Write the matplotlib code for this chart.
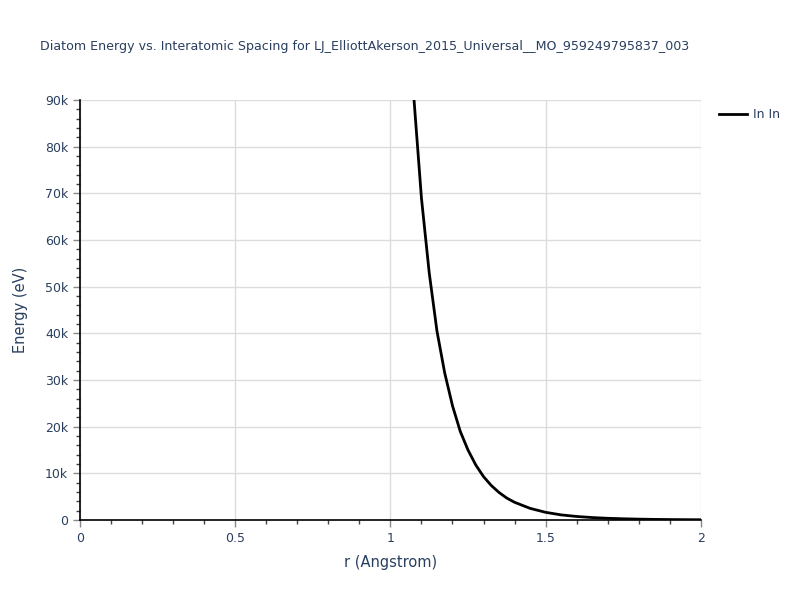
import matplotlib
matplotlib.use("Agg")
import matplotlib.pyplot as plt
from matplotlib.ticker import FuncFormatter, MultipleLocator

# values
r = [1.05, 1.075, 1.10, 1.125, 1.15, 1.175, 1.20, 1.225, 1.25, 1.275,
     1.30, 1.325, 1.35, 1.375, 1.40, 1.45, 1.50, 1.55, 1.60, 1.65,
     1.70, 1.75, 1.80, 1.85, 1.90, 1.95, 2.00]
energy = [121000, 91000, 69000, 53000, 40500, 31500, 24500, 19000, 15000, 11800,
          9300, 7400, 5900, 4700, 3800, 2500, 1650, 1100, 760, 530,
          370, 265, 190, 135, 100, 75, 55]
label = "In In"
title = "Diatom Energy vs. Interatomic Spacing for LJ_ElliottAkerson_2015_Universal__MO_959249795837_003"

txt = "#2a3f5f"

fig = plt.figure(figsize=(8, 6), dpi=100)
ax = fig.add_axes([0.1, 0.1333, 0.776, 0.7])

ax.plot(r, energy, color="black", lw=2, label=label)

ax.set_xlim(0, 2)
ax.set_ylim(0, 90000)
ax.xaxis.set_major_locator(MultipleLocator(0.5))
ax.xaxis.set_minor_locator(MultipleLocator(0.1))
ax.yaxis.set_major_locator(MultipleLocator(10000))
ax.yaxis.set_minor_locator(MultipleLocator(2000))
ax.xaxis.set_major_formatter(FuncFormatter(lambda v, p: "%g" % v))
ax.yaxis.set_major_formatter(FuncFormatter(lambda v, p: "0" if v == 0 else "%dk" % (v / 1000)))

ax.grid(True, which="major", color="#dcdcdc", lw=1)
ax.set_axisbelow(True)
for s in ["top", "right"]:
    ax.spines[s].set_visible(False)
for s in ["left", "bottom"]:
    ax.spines[s].set_color("black")
    ax.spines[s].set_linewidth(1.2)

ax.tick_params(which="major", direction="out", length=5, width=1, color="#888888",
               labelcolor=txt, labelsize=9)
ax.tick_params(which="minor", direction="out", length=3, width=1, color="#444444")

ax.set_xlabel("r (Angstrom)", fontsize=10.5, color=txt, labelpad=7)
ax.set_ylabel("Energy (eV)", fontsize=10.5, color=txt, labelpad=12)

fig.text(0.05, 0.923, title, fontsize=9.1, color=txt, ha="left", va="center")

ax.legend(loc="upper left", bbox_to_anchor=(1.012, 1.007), frameon=False,
          fontsize=9, labelcolor=txt, handlelength=2.2, handletextpad=0.5)

fig.savefig("out.png", dpi=100)
